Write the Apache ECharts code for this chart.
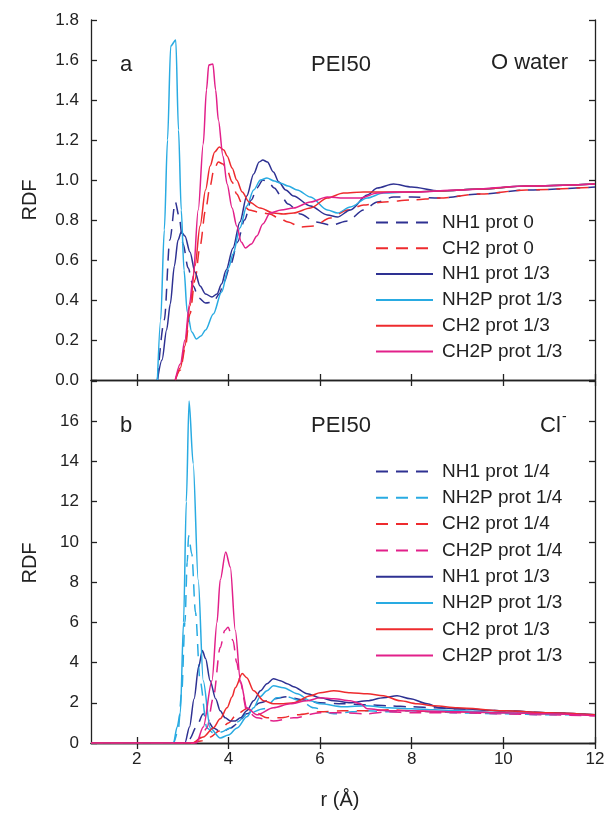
<!DOCTYPE html>
<html>
<head>
<meta charset="utf-8">
<script src="https://cdn.jsdelivr.net/npm/echarts@6/dist/echarts.min.js"></script>
<style>html,body{margin:0;padding:0;background:#fff}#c{width:608px;height:817px}</style>
</head>
<body>
<div id="c"></div>
<script>
// ---------- tick labels ----------
var xTicks = [2, 4, 6, 8, 10, 12];
var topLegend = ['NH1 prot 0', 'CH2 prot 0', 'NH1 prot 1/3', 'NH2P prot 1/3', 'CH2 prot 1/3', 'CH2P prot 1/3'];
var botLegend = ['NH1 prot 1/4', 'NH2P prot 1/4', 'CH2 prot 1/4', 'CH2P prot 1/4', 'NH1 prot 1/3', 'NH2P prot 1/3', 'CH2 prot 1/3', 'CH2P prot 1/3'];

// ---------- panel a : O water ----------
var aNH1p0 = [[2.45,0],[2.6,0.3],[2.72,0.7],[2.84,0.89],[2.92,0.82],[3.01,0.68],[3.12,0.56],[3.23,0.47],[3.35,0.41],[3.5,0.385],[3.67,0.39],[3.8,0.43],[3.9,0.49],[4.05,0.58],[4.2,0.69],[4.35,0.8],[4.5,0.9],[4.62,0.96],[4.75,1.0],[4.87,0.99],[5.0,0.96],[5.15,0.92],[5.3,0.88],[5.57,0.83],[5.9,0.79],[6.25,0.775],[6.6,0.795],[6.95,0.85],[7.25,0.89],[7.6,0.915],[8.0,0.915],[8.6,0.91],[9.5,0.93],[10.5,0.95],[12,0.965]];
var aCH2p0 = [[2.84,0],[2.95,0.05],[3.05,0.15],[3.16,0.33],[3.27,0.5],[3.38,0.67],[3.5,0.85],[3.6,0.97],[3.68,1.05],[3.78,1.09],[3.88,1.08],[3.97,1.05],[4.08,0.99],[4.18,0.93],[4.3,0.88],[4.45,0.85],[4.65,0.84],[4.9,0.83],[5.1,0.81],[5.3,0.79],[5.57,0.765],[5.86,0.77],[6.22,0.81],[6.6,0.85],[6.95,0.875],[7.4,0.89],[8.0,0.9],[8.6,0.91],[9.5,0.93],[10.5,0.95],[12,0.965]];
var aNH1p13 = [[2.45,0],[2.55,0.1],[2.65,0.25],[2.73,0.38],[2.82,0.57],[2.9,0.7],[2.97,0.74],[3.05,0.72],[3.16,0.64],[3.27,0.54],[3.38,0.47],[3.5,0.43],[3.64,0.415],[3.75,0.43],[3.85,0.48],[3.95,0.55],[4.1,0.66],[4.25,0.79],[4.4,0.92],[4.55,1.03],[4.67,1.09],[4.75,1.10],[4.85,1.09],[4.98,1.04],[5.1,0.99],[5.25,0.95],[5.42,0.92],[5.79,0.87],[6.16,0.825],[6.38,0.815],[6.66,0.85],[7.03,0.925],[7.25,0.96],[7.6,0.98],[8.0,0.965],[8.6,0.945],[9.5,0.955],[10.5,0.97],[12,0.98]];
var aNH2Pp13 = [[2.45,0],[2.52,0.3],[2.6,0.75],[2.67,1.2],[2.74,1.67],[2.85,1.70],[2.91,1.25],[2.97,0.85],[3.03,0.55],[3.1,0.34],[3.2,0.24],[3.3,0.205],[3.4,0.22],[3.5,0.25],[3.67,0.33],[3.85,0.44],[4.0,0.56],[4.1,0.63],[4.25,0.76],[4.4,0.87],[4.55,0.95],[4.7,1.0],[4.84,1.01],[5.0,0.995],[5.13,0.985],[5.3,0.97],[5.5,0.95],[5.79,0.915],[6.16,0.85],[6.38,0.835],[6.66,0.865],[7.03,0.91],[7.38,0.935],[8.0,0.94],[8.6,0.945],[9.5,0.955],[10.5,0.97],[12,0.98]];
var aCH2p13 = [[2.84,0],[2.95,0.06],[3.05,0.17],[3.16,0.37],[3.27,0.57],[3.38,0.77],[3.5,0.95],[3.6,1.07],[3.7,1.14],[3.8,1.165],[3.9,1.15],[3.97,1.12],[4.08,1.06],[4.18,1.0],[4.3,0.94],[4.45,0.89],[4.69,0.86],[4.98,0.835],[5.2,0.83],[5.42,0.835],[5.79,0.86],[6.16,0.91],[6.51,0.935],[6.95,0.94],[7.4,0.94],[8.0,0.94],[8.6,0.945],[9.5,0.955],[10.5,0.97],[12,0.98]];
var aCH2Pp13 = [[2.84,0],[2.95,0.08],[3.05,0.2],[3.15,0.38],[3.23,0.52],[3.34,0.85],[3.45,1.18],[3.52,1.45],[3.57,1.575],[3.66,1.58],[3.72,1.45],[3.78,1.3],[3.88,1.12],[3.97,0.98],[4.08,0.86],[4.18,0.77],[4.28,0.69],[4.37,0.66],[4.5,0.68],[4.62,0.72],[4.75,0.78],[4.91,0.835],[5.15,0.85],[5.42,0.86],[5.79,0.89],[6.16,0.915],[6.51,0.91],[6.88,0.91],[7.25,0.935],[7.6,0.94],[8.1,0.94],[9.0,0.95],[10.5,0.97],[12,0.98]];

// ---------- panel b : Cl- ----------
var bNH1p14 = [[1,0],[3.0,0],[3.15,0.2],[3.3,0.8],[3.45,1.45],[3.55,1.1],[3.67,0.75],[3.8,0.6],[3.9,0.6],[4.05,0.75],[4.19,0.95],[4.4,1.45],[4.69,2.0],[4.98,2.2],[5.28,2.3],[5.6,2.15],[6.0,2.0],[6.5,1.95],[7.0,1.9],[7.5,1.85],[8.0,1.8],[8.5,1.75],[9.0,1.7],[10,1.6],[11,1.5],[12,1.4]];
var bNH2Pp14 = [[1,0],[2.8,0],[2.9,0.6],[2.98,2.5],[3.05,6.0],[3.1,9.0],[3.13,10.3],[3.2,9.4],[3.28,6.5],[3.38,3.1],[3.53,0.75],[3.67,0.5],[3.85,0.55],[4.04,0.75],[4.2,1.05],[4.4,1.45],[4.77,1.7],[5.06,2.25],[5.28,2.3],[5.57,2.1],[5.86,1.75],[6.3,1.45],[6.7,1.55],[7.0,1.6],[7.5,1.55],[8.0,1.6],[8.5,1.55],[9,1.5],[10,1.45],[11,1.4],[12,1.4]];
var bCH2p14 = [[1,0],[3.2,0],[3.4,0.1],[3.6,0.3],[3.8,0.6],[4.0,1.0],[4.19,1.45],[4.4,1.7],[4.6,1.5],[4.84,1.25],[5.13,1.25],[5.5,1.4],[6.0,1.55],[6.5,1.6],[7.0,1.6],[7.5,1.65],[8.0,1.6],[8.5,1.55],[9,1.55],[10,1.5],[11,1.45],[12,1.4]];
var bCH2Pp14 = [[1,0],[3.25,0],[3.4,0.3],[3.53,0.75],[3.67,2.25],[3.82,4.75],[3.92,5.6],[3.99,5.75],[4.1,5.1],[4.18,4.0],[4.26,3.0],[4.4,1.6],[4.62,1.25],[4.98,1.1],[5.42,1.25],[6.0,1.5],[6.5,1.5],[7.0,1.45],[7.5,1.55],[8.0,1.5],[9,1.5],[10,1.45],[11,1.4],[12,1.35]];
var bNH1p13 = [[1,0],[3.05,0],[3.15,0.8],[3.25,2.2],[3.35,3.8],[3.43,4.6],[3.5,4.2],[3.6,3.1],[3.72,2.2],[3.82,1.6],[3.93,1.25],[4.04,1.1],[4.15,1.1],[4.26,1.25],[4.4,1.6],[4.55,2.1],[4.7,2.6],[4.84,2.95],[4.98,3.2],[5.13,3.1],[5.28,2.95],[5.42,2.8],[5.72,2.45],[6.0,2.25],[6.3,2.1],[6.66,2.0],[7.03,2.1],[7.38,2.25],[7.68,2.35],[7.97,2.2],[8.34,1.95],[8.6,1.75],[9.0,1.7],[10,1.6],[11,1.5],[12,1.4]];
var bNH2Pp13 = [[1,0],[2.8,0],[2.88,0.8],[2.95,1.5],[3.02,6.0],[3.08,12.0],[3.14,17.0],[3.23,13.9],[3.34,8.1],[3.45,3.1],[3.6,0.75],[3.82,0.25],[4.0,0.4],[4.19,0.75],[4.4,1.3],[4.55,1.75],[4.69,2.3],[4.84,2.6],[4.98,2.85],[5.2,2.75],[5.5,2.45],[5.79,2.1],[6.0,1.95],[6.5,1.8],[7.0,1.85],[7.5,1.75],[8.0,1.7],[8.5,1.65],[9,1.6],[10,1.5],[11,1.45],[12,1.4]];
var bCH2p13 = [[1,0],[3.2,0],[3.45,0.3],[3.67,0.75],[3.82,1.2],[3.97,1.75],[4.08,2.3],[4.15,2.75],[4.3,3.45],[4.4,3.25],[4.55,2.6],[4.77,2.1],[4.98,1.95],[5.2,1.95],[5.42,2.0],[5.79,2.35],[6.0,2.5],[6.3,2.6],[6.66,2.5],[7.03,2.45],[7.38,2.35],[7.75,2.1],[8.12,1.95],[8.48,1.85],[9,1.75],[10,1.6],[11,1.5],[12,1.4]];
var bCH2Pp13 = [[1,0],[3.3,0],[3.45,0.8],[3.64,3.1],[3.75,6.0],[3.82,8.1],[3.94,9.5],[4.04,8.75],[4.15,5.6],[4.26,3.1],[4.4,1.75],[4.62,1.4],[4.98,1.75],[5.35,1.95],[5.72,2.1],[6.0,2.25],[6.3,2.2],[6.66,2.1],[6.88,1.95],[7.03,1.7],[7.47,1.6],[8,1.6],[9,1.55],[10,1.5],[11,1.45],[12,1.35]];

var NAVY = '#2e3192', CYAN = '#29abe2', RED = '#ee2b2e', MAG = '#e2208a';
var FONT = 'Liberation Sans, Arial, sans-serif';
var DASH = [12, 8];

function mk(name, data, color, dashed, axIdx) {
  return {
    type: 'line', name: name, data: data,
    xAxisIndex: axIdx, yAxisIndex: axIdx,
    symbol: 'none', smooth: 0.3, smoothMonotone: 'x',
    lineStyle: { color: color, width: 1.5, type: dashed ? DASH : 'solid' },
    itemStyle: { color: color },
    emphasis: { disabled: true }, animation: false
  };
}

var axLine = { show: true, lineStyle: { color: '#222', width: 1.3 } };
function xAx(grid, pos, labels) {
  return {
    type: 'value', gridIndex: grid, position: pos, min: 1, max: 12,
    axisLine: axLine,
    axisTick: { show: true, inside: true, length: 6, customValues: xTicks, lineStyle: { color: '#222', width: 1.3 } },
    axisLabel: { show: labels, customValues: xTicks, margin: 8, fontSize: 17, color: '#222', fontFamily: FONT },
    splitLine: { show: false }
  };
}
function yAx(grid, pos, max, interval, labels, fmt) {
  return {
    type: 'value', gridIndex: grid, position: pos, min: 0, max: max, interval: interval,
    axisLine: axLine,
    axisTick: { show: true, inside: true, length: 6, lineStyle: { color: '#222', width: 1.3 } },
    axisLabel: { show: labels, margin: 12, fontSize: 17, color: '#222', fontFamily: FONT, formatter: fmt },
    splitLine: { show: false }
  };
}

var legendCommon = {
  orient: 'vertical', left: 370,
  itemWidth: 57, itemHeight: 18,
  selectedMode: false,
  itemStyle: { opacity: 0, borderWidth: 0 },
  textStyle: { fontSize: 19, lineHeight: 18, color: '#222', fontFamily: FONT, padding: [0, 0, 0, 4] }
};

var option = {
  backgroundColor: '#fff',
  animation: false,
  grid: [
    { left: 91, right: 13, top: 20, height: 360 },
    { left: 91, right: 13, top: 381, height: 362 }
  ],
  xAxis: [xAx(0, 'bottom', false), xAx(1, 'bottom', true), xAx(0, 'top', false), xAx(1, 'top', false)],
  yAxis: [
    yAx(0, 'left', 1.8, 0.2, true, function (v) { return v.toFixed(1); }),
    yAx(1, 'left', 18, 2, true, function (v) { return v >= 18 ? '' : String(v); }),
    yAx(0, 'right', 1.8, 0.2, false),
    yAx(1, 'right', 18, 2, false)
  ],
  legend: [
    Object.assign({}, legendCommon, { data: topLegend, top: 208, itemGap: 6.8 }),
    Object.assign({}, legendCommon, { data: botLegend, top: 457, itemGap: 7.3 })
  ],
  series: [
    mk('NH1 prot 0', aNH1p0, NAVY, true, 0),
    mk('CH2 prot 0', aCH2p0, RED, true, 0),
    mk('NH1 prot 1/3', aNH1p13, NAVY, false, 0),
    mk('NH2P prot 1/3', aNH2Pp13, CYAN, false, 0),
    mk('CH2 prot 1/3', aCH2p13, RED, false, 0),
    mk('CH2P prot 1/3', aCH2Pp13, MAG, false, 0),
    mk('NH1 prot 1/4', bNH1p14, NAVY, true, 1),
    mk('NH2P prot 1/4', bNH2Pp14, CYAN, true, 1),
    mk('CH2 prot 1/4', bCH2p14, RED, true, 1),
    mk('CH2P prot 1/4', bCH2Pp14, MAG, true, 1),
    mk('NH1 prot 1/3', bNH1p13, NAVY, false, 1),
    mk('NH2P prot 1/3', bNH2Pp13, CYAN, false, 1),
    mk('CH2 prot 1/3', bCH2p13, RED, false, 1),
    mk('CH2P prot 1/3', bCH2Pp13, MAG, false, 1)
  ],
  graphic: [
    { type: 'text', left: 120, top: 54, style: { text: 'a', font: '22px ' + FONT, fill: '#222' } },
    { type: 'text', left: 311, top: 54, style: { text: 'PEI50', font: '22px ' + FONT, fill: '#222' } },
    { type: 'text', right: 40, top: 52, style: { text: 'O water', font: '22px ' + FONT, fill: '#222' } },
    { type: 'text', left: 120, top: 415, style: { text: 'b', font: '22px ' + FONT, fill: '#222' } },
    { type: 'text', left: 311, top: 415, style: { text: 'PEI50', font: '22px ' + FONT, fill: '#222' } },
    { type: 'text', left: 540, top: 415, style: { text: 'Cl', font: '22px ' + FONT, fill: '#222' } },
    { type: 'text', left: 562, top: 410, style: { text: '-', font: '14px ' + FONT, fill: '#222' } },
    { type: 'text', x: 30, y: 200, rotation: Math.PI / 2, style: { text: 'RDF', font: '20px ' + FONT, fill: '#222', align: 'center', verticalAlign: 'middle' } },
    { type: 'text', x: 30, y: 563, rotation: Math.PI / 2, style: { text: 'RDF', font: '20px ' + FONT, fill: '#222', align: 'center', verticalAlign: 'middle' } },
    { type: 'text', x: 340, y: 800, style: { text: 'r (Å)', font: '20px ' + FONT, fill: '#222', align: 'center', verticalAlign: 'middle' } }
  ]
};
var chart = echarts.init(document.getElementById('c'), null, { renderer: 'canvas' });
chart.setOption(option);
</script>
</body>
</html>
